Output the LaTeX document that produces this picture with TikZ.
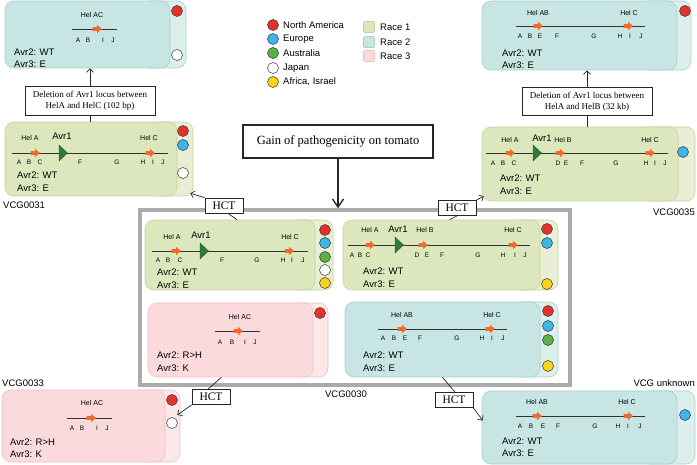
\documentclass[tikz,border=0pt]{standalone}
\usepackage{fontspec}
\setmainfont{Liberation Serif}
\setsansfont{Liberation Sans}
\usetikzlibrary{fit,calc,arrows.meta}
\definecolor{r1f}{HTML}{DDE7BE}
\definecolor{r1b}{HTML}{E9EFD5}
\definecolor{r1d}{HTML}{C3D19C}
\definecolor{r2f}{HTML}{C7E5E2}
\definecolor{r2b}{HTML}{DDEFEC}
\definecolor{r2d}{HTML}{A8CFCA}
\definecolor{r3f}{HTML}{FADADD}
\definecolor{r3b}{HTML}{FCE7E9}
\definecolor{r3d}{HTML}{EDC2C5}
\definecolor{cred}{HTML}{E2322A}
\definecolor{cblue}{HTML}{3DB5E9}
\definecolor{cgreen}{HTML}{5DB048}
\definecolor{cyellow}{HTML}{F8D41A}
\definecolor{corange}{HTML}{F26A2B}
\definecolor{avrg}{HTML}{2E7A3A}
\definecolor{framegray}{HTML}{ABABAB}
\newcounter{lc}
\tikzset{
 panel/.style={rounded corners=9pt, inner sep=0pt, line width=0.6pt},
 dot/.style={circle, draw=black!80, line width=0.5pt, minimum size=11pt, inner sep=0pt},
 gl/.style={line width=0.9pt, draw=black!80},
 oarr/.style={fill=corange},
 avrtri/.style={fill=avrg, draw=avrg!70!black, line width=0.4pt},
 lett/.style={font=\sffamily\fontsize{6.5}{7}\selectfont, inner sep=0pt},
 hel/.style={font=\sffamily\fontsize{7}{8}\selectfont, inner sep=0pt},
 avrlab/.style={font=\sffamily\fontsize{9.5}{11}\selectfont, inner sep=0pt},
 avrtxt/.style={font=\sffamily\fontsize{9.5}{11}\selectfont, inner sep=0pt, anchor=west},
 vcg/.style={font=\sffamily\fontsize{9.5}{11}\selectfont, inner sep=0pt},
 legtxt/.style={font=\sffamily\fontsize{9.5}{11}\selectfont, inner sep=0pt, anchor=west},
 legsq/.style={minimum size=11pt, inner sep=0pt, rounded corners=1pt, line width=0.6pt},
 serifbox/.style={draw=black!85, fill=white, line width=0.8pt, font=\fontsize{9}{11}\selectfont, align=center, inner sep=0pt},
 hct/.style={draw=black!85, fill=white, line width=0.8pt, font=\fontsize{11.5}{12}\selectfont, minimum width=38pt, minimum height=15pt, inner sep=0pt},
 conn/.style={line width=0.7pt, draw=black!85},
 carrow/.style={conn, -{Straight Barb[length=3.5pt,width=7pt]}},
}
% name, race, x1, y1, x2, y2, back x1, back x2
\newcommand\racebox[8]{%
 \node[panel, fill=r#2b, draw=r#2d, fit={(#7,#4) (#8,#6)}] (#1b) {};
 \node[panel, fill=r#2f, draw=r#2d, fit={(#3,#4) (#5,#6)}] (#1) {};
}
\newcommand\oar[2]{\fill[oarr] ({#1-4.5},{#2-1.8}) -- ({#1},{#2-1.8}) -- ({#1},{#2-4.2}) -- ({#1+4.8},#2) -- ({#1},{#2+4.2}) -- ({#1},{#2+1.8}) -- ({#1-4.5},{#2+1.8}) -- cycle;}
\newcommand\avtri[2]{\filldraw[avrtri] (#1,{#2-8}) -- ({#1+8.5},#2) -- (#1,{#2+8}) -- cycle;}
\newcommand\lts[2]{\foreach \lpx/\ltx in {#2} {\stepcounter{lc}\node[lett] (lt\arabic{lc}) at (\lpx,#1) {\ltx};}}
\newcommand\dotat[3]{\stepcounter{lc}\node[dot, fill=#3] (dt\arabic{lc}) at (#1,#2) {};}
\begin{document}
\begin{tikzpicture}[x=1pt,y=-1pt]
\useasboundingbox (0,0) rectangle (697,465);

% ---------- legend ----------
\node[dot, fill=cred] (lg1) at (273,25) {};
\node[dot, fill=cblue] (lg2) at (273,39) {};
\node[dot, fill=cgreen] (lg3) at (273,53) {};
\node[dot, fill=white] (lg4) at (273,68) {};
\node[dot, fill=cyellow] (lg5) at (273,82) {};
\node[legtxt] (lgt1) at (283,25) {North America};
\node[legtxt] (lgt2) at (283,39) {Europe};
\node[legtxt] (lgt3) at (283,53) {Australia};
\node[legtxt] (lgt4) at (283,68) {Japan};
\node[legtxt] (lgt5) at (283,82) {Africa, Israel};
\node[legsq, fill=r1f, draw=r1d] (lr1) at (369,27) {};
\node[legsq, fill=r2f, draw=r2d] (lr2) at (369,42) {};
\node[legsq, fill=r3f, draw=r3d] (lr3) at (369,56) {};
\node[legtxt] (lrt1) at (380,27) {Race 1};
\node[legtxt] (lrt2) at (380,42) {Race 2};
\node[legtxt] (lrt3) at (380,56) {Race 3};

% ---------- top left (race 2) ----------
\racebox{tl}{2}{5}{1}{170}{68}{140}{186}
\node[hel] (tlh1) at (92,15) {Hel AC};
\draw[gl] (72,29) -- (117,29); \oar{97}{29}
\lts{40}{78/A,88/B,103/I,113/J}
\node[avrtxt] (tla2) at (14,52) {Avr2: WT};
\node[avrtxt] (tla3) at (14,64) {Avr3: E};
\dotat{177}{11}{cred}
\dotat{177}{55}{white}

% ---------- top right (race 2) ----------
\racebox{tr}{2}{482}{1}{677}{70}{640}{691}
\node[hel] (trh1) at (538,13) {Hel AB};
\node[hel] (trh2) at (629,13) {Hel C};
\draw[gl] (516,26) -- (645,26); \oar{538}{26} \oar{628}{26}
\lts{36}{520/A,530/B,540/E,557/F,594/G,620/H,630/I,641/J}
\node[avrtxt] (tra2) at (502,53) {Avr2: WT};
\node[avrtxt] (tra3) at (502,65) {Avr3: E};
\dotat{685}{11}{cred}

% ---------- VCG0031 (race 1) ----------
\racebox{v31}{1}{5}{122}{177}{196}{150}{193}
\node[hel] (v31h1) at (30,138) {Hel A};
\node[avrlab] (v31h2) at (62,136) {Avr1};
\node[hel] (v31h3) at (149,138) {Hel C};
\draw[gl] (12,153) -- (168,153); \oar{35}{153} \oar{150}{153} \avtri{59}{153}
\lts{162}{19/A,29/B,40/C,80/F,117/G,143/H,153/I,163/J}
\node[avrtxt] (v31a2) at (17,175) {Avr2: WT};
\node[avrtxt] (v31a3) at (17,188) {Avr3: E};
\dotat{183}{131}{cred}
\dotat{183}{145}{cblue}
\dotat{183}{173}{white}
\node[vcg, anchor=west] (v31l) at (3,205) {VCG0031};

% ---------- VCG0035 (race 1) ----------
\racebox{v35}{1}{482}{127}{678}{201}{640}{695}
\node[hel] (v35h1) at (510,140) {Hel A};
\node[avrlab] (v35h2) at (542,138) {Avr1};
\node[hel] (v35h3) at (563,140) {Hel B};
\node[hel] (v35h4) at (650,140) {Hel C};
\draw[gl] (486,153) -- (668,153); \oar{510}{153} \oar{560}{153} \oar{650}{153} \avtri{533}{153}
\lts{163}{493/A,503/B,514/C,558/D,566/E,582/F,616/G,646/H,655/I,665/J}
\node[avrtxt] (v35a2) at (500,178) {Avr2: WT};
\node[avrtxt] (v35a3) at (500,191) {Avr3: E};
\dotat{683}{152}{cblue}
\node[vcg, anchor=east] (v35l) at (695,212) {VCG0035};

% ---------- deletion boxes ----------
\node[serifbox, minimum width=130pt, minimum height=29pt] (delL) at (90,100.5) {Deletion of Avr1 locus between\\HelA and HelC (102 bp)};
\node[serifbox, minimum width=130pt, minimum height=28pt] (delR) at (587,101.5) {Deletion of Avr1 locus between\\HelA and HelB (32 kb)};
\draw[carrow] (delL.north) -- (delL.north |- tl.south);
\draw[conn] (delL.south) -- (delL.south |- v31.north);
\draw[carrow] (delR.north) -- (delR.north |- tr.south);
\draw[conn] (delR.south) -- (delR.south |- v35.north);

% ---------- centre frame ----------
\node[draw=framegray, line width=3.5pt, fit={(140,210) (570,385)}, inner sep=0pt] (frame) {};
\node[vcg] (v30l) at (346,394) {VCG0030};

% c1 (race 1)
\racebox{c1}{1}{145}{220}{315}{290}{290}{333}
\node[hel] (c1h1) at (172,237) {Hel A};
\node[avrlab] (c1h2) at (201,235) {Avr1};
\node[hel] (c1h3) at (290,237) {Hel C};
\draw[gl] (152,251) -- (308,251); \oar{176}{251} \oar{289}{251} \avtri{200}{251}
\lts{260}{158/A,168/B,180/C,222/F,257/G,283/H,292/I,303/J}
\node[avrtxt] (c1a2) at (157,272) {Avr2: WT};
\node[avrtxt] (c1a3) at (157,285) {Avr3: E};
\dotat{325}{230}{cred}
\dotat{325}{243}{cblue}
\dotat{325}{257}{cgreen}
\dotat{325}{270}{white}
\dotat{325}{283}{cyellow}

% c2 (race 1)
\racebox{c2}{1}{343}{220}{540}{290}{510}{558}
\node[hel] (c2h1) at (370,230) {Hel A};
\node[avrlab] (c2h2) at (398,229) {Avr1};
\node[hel] (c2h3) at (425,230) {Hel B};
\node[hel] (c2h4) at (513,230) {Hel C};
\draw[gl] (348,245) -- (530,245); \oar{370}{245} \oar{423}{245} \oar{513}{245} \avtri{395}{245}
\lts{255}{352/A,360/B,368/C,417/D,427/E,442/F,478/G,503/H,515/I,525/J}
\node[avrtxt] (c2a2) at (363,271) {Avr2: WT};
\node[avrtxt] (c2a3) at (363,284) {Avr3: E};
\dotat{547}{229}{cred}
\dotat{547}{243}{cblue}
\dotat{547}{284}{cyellow}

% p1 (race 3)
\racebox{p1}{3}{148}{303}{313}{377}{290}{328}
\node[hel] (p1h1) at (240,317) {Hel AC};
\draw[gl] (215,331) -- (260,331); \oar{238}{331}
\lts{342}{220/A,232/B,245/I,255/J}
\node[avrtxt] (p1a2) at (157,355) {Avr2: R>H};
\node[avrtxt] (p1a3) at (157,368) {Avr3: K};
\dotat{320}{313}{cred}

% t1 (race 2)
\racebox{t1}{2}{345}{302}{540}{377}{510}{558}
\node[hel] (t1h1) at (402,315) {Hel AB};
\node[hel] (t1h2) at (492,315) {Hel C};
\draw[gl] (378,329) -- (507,329); \oar{402}{329} \oar{490}{329}
\lts{338}{383/A,394/B,405/E,420/F,457/G,482/H,492/I,503/J}
\node[avrtxt] (t1a2) at (363,355) {Avr2: WT};
\node[avrtxt] (t1a3) at (363,368) {Avr3: E};
\dotat{548}{311}{cred}
\dotat{548}{326}{cblue}
\dotat{548}{340}{cgreen}
\dotat{548}{366}{cyellow}

% ---------- VCG0033 (race 3) ----------
\racebox{v33}{3}{2}{390}{165}{462}{140}{180}
\node[hel] (v33h1) at (92,403) {Hel AC};
\draw[gl] (67,418) -- (112,418); \oar{91}{418}
\lts{428}{72/A,82/B,97/I,107/J}
\node[avrtxt] (v33a2) at (10,442) {Avr2: R>H};
\node[avrtxt] (v33a3) at (10,454) {Avr3: K};
\dotat{172}{400}{cred}
\dotat{172}{423}{white}
\node[vcg, anchor=west] (v33l) at (2,383) {VCG0033};

% ---------- VCG unknown (race 2) ----------
\racebox{vu}{2}{482}{391}{677}{464}{640}{695}
\node[hel] (vuh1) at (537,402) {Hel AB};
\node[hel] (vuh2) at (627,402) {Hel C};
\draw[gl] (516,416) -- (645,416); \oar{537}{416} \oar{628}{416}
\lts{426}{520/A,531/B,543/E,558/F,595/G,618/H,628/I,640/J}
\node[avrtxt] (vua2) at (502,441) {Avr2: WT};
\node[avrtxt] (vua3) at (502,453) {Avr3: E};
\dotat{685}{415}{cblue}
\node[vcg, anchor=east] (vul) at (695,383) {VCG unknown};

% ---------- gain box ----------
\node[draw=black!85, fill=white, line width=1.3pt, minimum width=190pt, minimum height=33pt, inner sep=0pt, font=\fontsize{12.5}{14}\selectfont] (gain) at (338,141.5) {Gain of pathogenicity on tomato};
\draw[line width=1.4pt, draw=black!85, -{Straight Barb[length=8pt,width=11pt]}] (gain.south) -- (gain.south |- frame.north);

% ---------- HCT boxes and connectors ----------
\node[hct] (hctL) at (224,205.5) {HCT};
\node[hct] (hctR) at (457,208) {HCT};
\node[hct] (hctBL) at (211,397) {HCT};
\node[hct] (hctBR) at (454,400) {HCT};
\draw[conn] ($(c1.north)+(7,0)$) -- ($(hctL.south)+(4,0)$);
\draw[carrow] (hctL.north west) -- ($(v31b.south east)+(-3,-3)$);
\draw[conn] ($(c2.north)+(8,0)$) -- (hctR.south);
\draw[carrow] (hctR.north east) -- ($(v35.south west)+(2,-5)$);
\draw[conn] ($(p1.south)+(-9,0)$) -- ($(hctBL.north)+(-3,0)$);
\draw[carrow] (hctBL.south west) -- ($(v33b.east)+(-3,-11)$);
\draw[conn] (t1.south) -- ($(hctBR.north)+(1,0)$);
\draw[carrow] (hctBR.south east) -- ($(vu.west)+(1,-7)$);
\end{tikzpicture}
\end{document}
